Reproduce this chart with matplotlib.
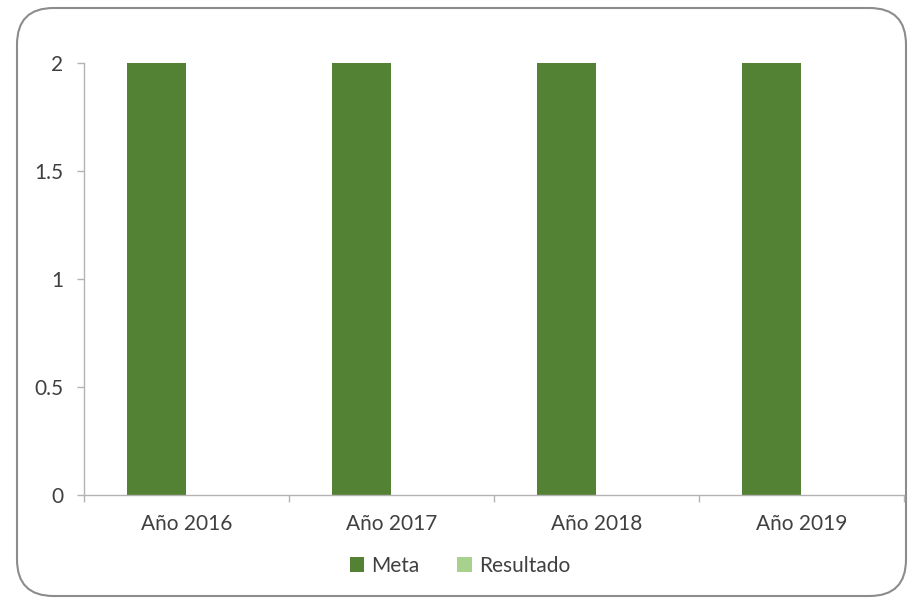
import matplotlib
matplotlib.use("Agg")
import matplotlib.pyplot as plt
from matplotlib.patches import FancyBboxPatch
import numpy as np

categories = ["Año 2016", "Año 2017", "Año 2018", "Año 2019"]
meta = [2, 2, 2, 2]
resultado = [0, 0, 0, 0]
yticks = [0, 0.5, 1, 1.5, 2]
ytick_labels = ["0", "0.5", "1", "1.5", "2"]

plt.rcParams['font.family'] = ['Lato', 'DejaVu Sans']
text_color = "#404040"
axis_color = "#B3B3B3"
fs = 15

fig = plt.figure(figsize=(9.12, 6.0), dpi=100)
frame = FancyBboxPatch((17/912, 4/600), 889/912, 588/600,
                       boxstyle="round,pad=0,rounding_size=0.04",
                       transform=fig.transFigure, facecolor="white",
                       edgecolor="#8C8C8C", linewidth=1.5, mutation_aspect=912/600,
                       zorder=-10)
fig.patches.append(frame)

ax = fig.add_axes([84/912, 105/600, 820/912, 432/600])
ax.set_zorder(5)
ax.set_facecolor("none")
x = np.arange(len(categories))
w = 0.288
ax.bar(x - w/2, meta, width=w, color="#548235", label="Meta")
ax.bar(x + w/2, resultado, width=w, color="#A9D18E", label="Resultado")

ax.set_xlim(-0.5, len(categories) - 0.5)
ax.set_ylim(0, 2)
ax.set_yticks(yticks)
ax.set_yticklabels(ytick_labels)
ax.set_xticks(x)
ax.set_xticklabels(categories)
ax.set_xticks(np.arange(len(categories) + 1) - 0.5, minor=True)
ax.tick_params(axis='x', which='major', length=0, pad=14, labelsize=fs, labelcolor=text_color)
ax.tick_params(axis='x', which='minor', length=5, width=1, color=axis_color)
ax.tick_params(axis='y', length=5, width=1, color=axis_color, pad=10, labelsize=fs, labelcolor=text_color)

for s in ['top', 'right']:
    ax.spines[s].set_visible(False)
for s in ['left', 'bottom']:
    ax.spines[s].set_color(axis_color)
    ax.spines[s].set_linewidth(1)

leg = fig.legend(loc="center", bbox_to_anchor=(460/912, 1 - 566/600), ncol=2,
                 frameon=False, fontsize=fs, handlelength=0.7, handleheight=0.7,
                 handletextpad=0.35, columnspacing=1.8)
for t in leg.get_texts():
    t.set_color(text_color)

fig.savefig("out.png", dpi=100)
